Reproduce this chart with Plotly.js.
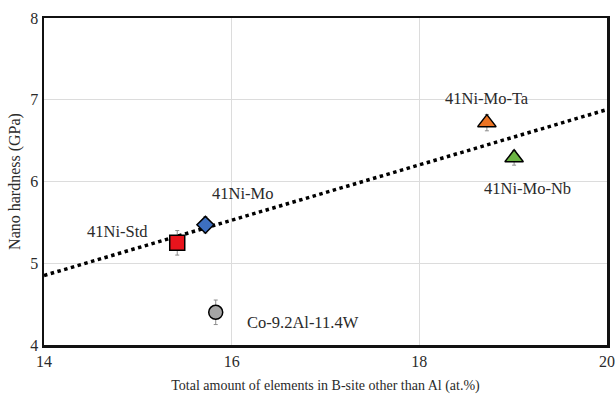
<!DOCTYPE html>
<html><head><meta charset="utf-8">
<script src="https://cdn.plot.ly/plotly-3.0.1.min.js"></script>
<style>html,body{margin:0;padding:0;background:#fff;}#chart{width:615px;height:398px;}</style>
</head><body><div id="chart"></div>
<script>
const alloys = ["41Ni-Std", "41Ni-Mo", "Co-9.2Al-11.4W", "41Ni-Mo-Ta", "41Ni-Mo-Nb"];
const bSite = [15.42, 15.72, 15.83, 18.72, 19.01];
const hardness = [5.25, 5.47, 4.40, 6.72, 6.29];
const hardnessErr = [0.15, 0.10, 0.15, 0.10, 0.09];
const symbols = ["square", "diamond", "circle", "triangle-up", "triangle-up"];
const colors = ["#e8141c", "#3d6fc0", "#a5a5a5", "#ec7424", "#6cb544"];
const sizes = [15, 13, 14, 16, 16];
const trendX = [14, 20];
const trendY = [4.85, 6.88];
const labelX = [14.78, 16.12, 16.76, 18.72, 19.15];
const labelY = [5.39, 5.85, 4.28, 7.02, 5.92];

const traces = [{
  x: trendX, y: trendY, mode: "lines", type: "scatter",
  line: {color: "#000", width: 3.5, dash: "dot"}, hoverinfo: "skip", showlegend: false
}];
alloys.forEach((a, i) => {
  traces.push({
    x: [bSite[i]], y: [hardness[i]], type: "scatter", mode: "markers", name: a,
    error_y: {type: "data", array: [hardnessErr[i]], color: "#8c8c8c", thickness: 1, width: 2},
    marker: {symbol: symbols[i], color: colors[i], size: sizes[i], line: {color: "#000", width: 1.5}},
    showlegend: false
  });
});
const annotations = alloys.map((a, i) => ({
  x: labelX[i], y: labelY[i], xref: "x", yref: "y", text: a, showarrow: false,
  font: {family: "Liberation Serif, Times New Roman, serif", size: 16.5, color: "#2a2a2a"}
}));
const layout = {
  width: 615, height: 398,
  margin: {l: 44, r: 8, t: 18, b: 53},
  paper_bgcolor: "#fff", plot_bgcolor: "#fff",
  font: {family: "Liberation Serif, Times New Roman, serif", size: 16, color: "#2a2a2a"},
  xaxis: {range: [14, 20], tickvals: [14, 16, 18, 20], showgrid: true, gridcolor: "#dcdcdc", gridwidth: 1,
    showline: true, linecolor: "#111", linewidth: 2.5, mirror: true, zeroline: false, ticks: "",
    title: {text: "Total amount of elements in B-site other than Al (at.%)", font: {size: 14}, standoff: 12},
    tickfont: {size: 16}},
  yaxis: {range: [4, 8], tickvals: [4, 5, 6, 7, 8], showgrid: true, gridcolor: "#dcdcdc", gridwidth: 1,
    showline: true, linecolor: "#111", linewidth: 2.5, mirror: true, zeroline: false, ticks: "",
    title: {text: "Nano hardness (GPa)", font: {size: 16}, standoff: 6},
    tickfont: {size: 16}},
  annotations: annotations
};
Plotly.newPlot("chart", traces, layout, {displayModeBar: false, staticPlot: true});
</script></body></html>
